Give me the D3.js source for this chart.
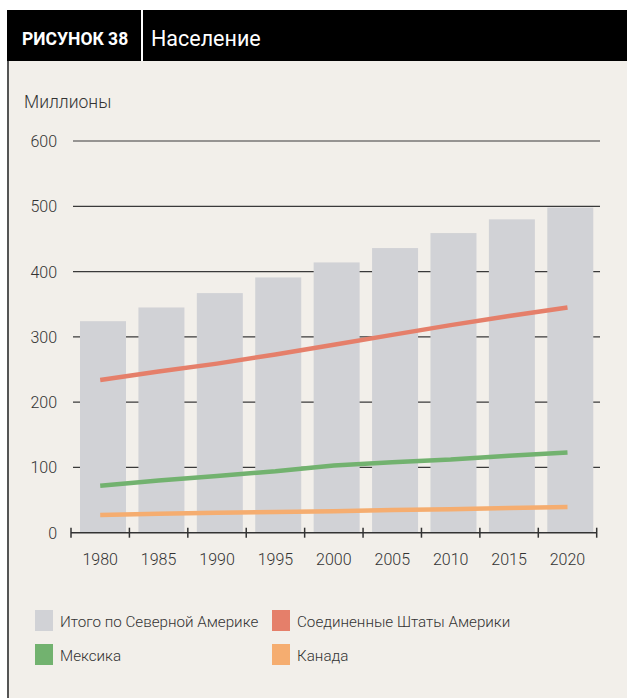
<!DOCTYPE html>
<html>
<head>
<meta charset="utf-8">
<script src="https://cdn.jsdelivr.net/npm/d3@7"></script>
<style>
  body { margin: 0; background: #fff; }
  text { font-family: Roboto, sans-serif; font-weight: 300; }
</style>
</head>
<body>
<svg id="chart" width="627" height="698"></svg>
<script>
// data (millions)
const years = ["1980", "1985", "1990", "1995", "2000", "2005", "2010", "2015", "2020"];
const total = [324, 345, 367, 391, 414, 436, 459, 480, 498];
const usa = [234, 247, 259, 273, 288, 303, 318, 332, 345];
const mexico = [72, 80, 87, 94, 103, 108, 112, 118, 123];
const canada = [27, 29, 30.5, 31.7, 33, 34.7, 36, 37.8, 39.3];
const yTicks = [0, 100, 200, 300, 400, 500, 600];
const legendLabels = ["Итого по Северной Америке", "Соединенные Штаты Америки", "Мексика", "Канада"];
const colors = ["#d1d2d6", "#e57f6a", "#72b26f", "#f5ad70"];

const svg = d3.select("#chart");

// panel
svg.append("rect").attr("x", 7).attr("y", 10).attr("width", 620).attr("height", 688).attr("fill", "#f2efea");
svg.append("line").attr("x1", 8).attr("x2", 8).attr("y1", 60).attr("y2", 698)
    .attr("stroke", "#555").attr("stroke-width", 2);

// header band
svg.append("rect").attr("x", 7).attr("y", 10).attr("width", 620).attr("height", 51).attr("fill", "#000");
svg.append("line").attr("x1", 142).attr("x2", 142).attr("y1", 10).attr("y2", 61)
    .attr("stroke", "#fff").attr("stroke-width", 2);
svg.append("text").attr("x", 22).attr("y", 45).attr("fill", "#fff")
    .attr("font-size", 17.5).style("font-weight", 700).text("РИСУНОК 38");
svg.append("text").attr("x", 151).attr("y", 46).attr("fill", "#fff")
    .attr("font-size", 21.5).style("font-weight", 400).text("Население");

svg.append("text").attr("x", 24).attr("y", 108).attr("fill", "#333")
    .attr("font-size", 17.5).text("Миллионы");

const x = d3.scaleBand().domain(years).range([71, 596.7]);
const y = d3.scaleLinear().domain([0, 600]).range([532.7, 141]);

// gridlines
svg.append("g").selectAll("line").data(yTicks.filter(d => d > 0)).join("line")
    .attr("x1", 73).attr("x2", 600)
    .attr("y1", d => y(d)).attr("y2", d => y(d))
    .attr("stroke", "#3a3a3a").attr("stroke-width", 1.2);

// y labels
svg.append("g").selectAll("text").data(yTicks).join("text")
    .attr("x", 57).attr("y", d => y(d) + 6)
    .attr("text-anchor", "end").attr("fill", "#333").attr("font-size", 16)
    .text(d => d);

// bars
svg.append("g").selectAll("rect").data(years).join("rect")
    .attr("x", d => x(d) + 9).attr("width", 46)
    .attr("y", (d, i) => y(total[i])).attr("height", (d, i) => y(0) - y(total[i]))
    .attr("fill", colors[0]);

// x axis
const xAxis = svg.append("g");
xAxis.append("line").attr("x1", x.range()[0]).attr("x2", x.range()[1])
    .attr("y1", y(0)).attr("y2", y(0)).attr("stroke", "#333").attr("stroke-width", 1.5);
const edges = years.map(d => x(d)).concat([x.range()[1]]);
xAxis.selectAll("line.tick").data(edges).join("line").attr("class", "tick")
    .attr("x1", d => d).attr("x2", d => d)
    .attr("y1", y(0) - 5).attr("y2", y(0) + 5)
    .attr("stroke", "#333").attr("stroke-width", 1.5);
xAxis.selectAll("text").data(years).join("text")
    .attr("x", d => x(d) + x.bandwidth() / 2).attr("y", 565)
    .attr("text-anchor", "middle").attr("fill", "#333").attr("font-size", 16)
    .text(d => d);

// lines
const line = d3.line()
    .x((d, i) => x(years[i]) + x.bandwidth() / 2)
    .y(d => y(d));
[[usa, colors[1]], [mexico, colors[2]], [canada, colors[3]]].forEach(([s, c]) => {
    svg.append("path").datum(s).attr("d", line)
        .attr("fill", "none").attr("stroke", c).attr("stroke-width", 4.5);
});

// legend
const legend = svg.append("g");
const lx = [35, 272], ly = [610, 644];
legendLabels.forEach((t, i) => {
    const g = legend.append("g")
        .attr("transform", `translate(${lx[i % 2]},${ly[Math.floor(i / 2)]})`);
    g.append("rect").attr("width", 18).attr("height", 21).attr("fill", colors[i]);
    g.append("text").attr("x", 25).attr("y", 17).attr("fill", "#333")
        .attr("font-size", 15.2).text(t);
});
</script>
</body>
</html>
